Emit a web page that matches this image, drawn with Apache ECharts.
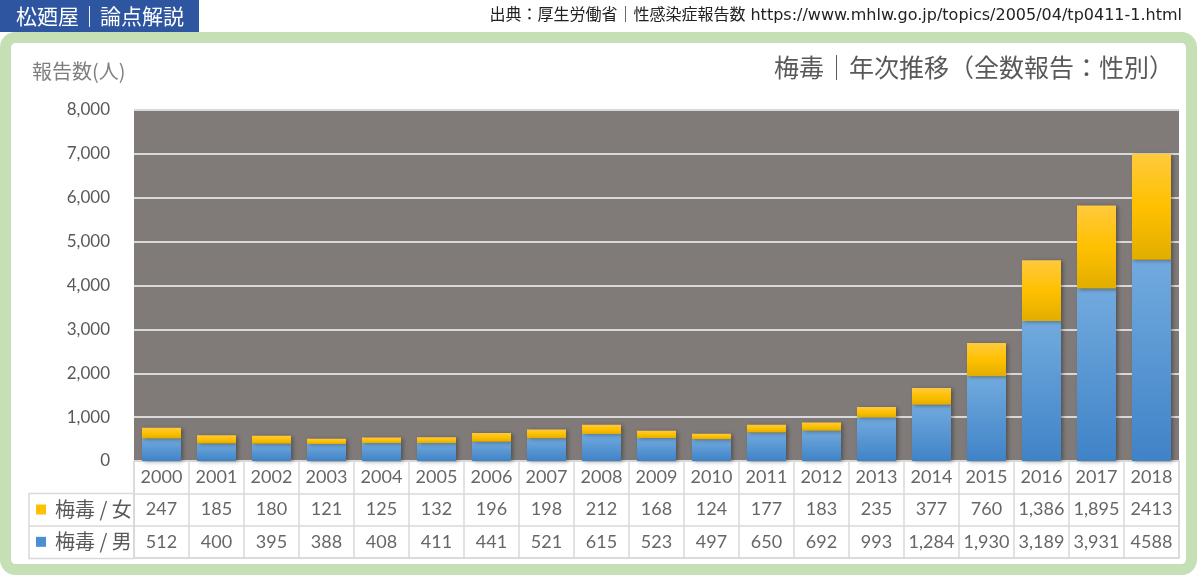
<!DOCTYPE html>
<html>
<head>
<meta charset="utf-8">
<script src="https://cdn.jsdelivr.net/npm/echarts@6/dist/echarts.min.js"></script>
<style>
  html, body { margin: 0; padding: 0; background: #fff; }
  #chart { width: 1200px; height: 577px; }
</style>
</head>
<body>
<div id="chart"></div>
<script>
// 年次（全数報告）
var years = ['2000', '2001', '2002', '2003', '2004', '2005', '2006', '2007', '2008', '2009',
  '2010', '2011', '2012', '2013', '2014', '2015', '2016', '2017', '2018'];
// 梅毒 / 男
var maleCounts = [512, 400, 395, 388, 408, 411, 441, 521, 615, 523,
  497, 650, 692, 993, 1284, 1930, 3189, 3931, 4588];
// 梅毒 / 女
var femaleCounts = [247, 185, 180, 121, 125, 132, 196, 198, 212, 168,
  124, 177, 183, 235, 377, 760, 1386, 1895, 2413];
var tableRows = ['year', 'female', 'male'];
var rowNames = { year: '', female: '梅毒 / 女', male: '梅毒 / 男' };

var CJK = '"Noto Sans CJK JP", "Noto Sans", sans-serif';
var NUM = 'Lato, "Noto Sans", sans-serif';
var gridColor = '#d9d9d9';

// 元の表では2018年だけカンマ無し
function fmt(v, i) {
  return i === years.length - 1 ? String(v) : v.toLocaleString('en-US');
}

// 表のセル（年・女・男）
var cellData = [];
for (var i = 0; i < years.length; i++) {
  cellData.push({ value: [i, 'year'], name: years[i] });
  cellData.push({ value: [i, 'female'], name: fmt(femaleCounts[i], i) });
  cellData.push({ value: [i, 'male'], name: fmt(maleCounts[i], i) });
}

var chart = echarts.init(document.getElementById('chart'));

var option = {
  backgroundColor: '#fff',
  animation: false,
  graphic: [
    // 緑の枠
    { type: 'rect', z: 0, silent: true,
      shape: { x: 5.5, y: 37.5, width: 1186, height: 532, r: 10 },
      style: { fill: 'none', stroke: '#c5e0b4', lineWidth: 11 } },
    // 左上のタイトル帯
    { type: 'rect', z: 1, silent: true,
      shape: { x: 0, y: 0, width: 199, height: 32 },
      style: { fill: '#2d55a0' } },
    { type: 'text', z: 2, silent: true, left: 16, top: 6,
      style: { text: '松廼屋｜論点解説', fill: '#fff', font: '21px ' + CJK } },
    // 出典
    { type: 'text', z: 2, silent: true, right: 18, top: 8,
      style: { text: '出典：厚生労働省｜性感染症報告数 https://www.mhlw.go.jp/topics/2005/04/tp0411-1.html',
        fill: '#222', font: '16px "DejaVu Sans", "Noto Sans CJK JP", sans-serif' } },
    // グラフタイトル
    { type: 'text', z: 2, silent: true, right: 26, top: 55,
      style: { text: '梅毒｜年次推移（全数報告：性別）', fill: '#595959', font: '25px ' + CJK } },
    // 縦軸名
    { type: 'text', z: 2, silent: true, left: 32, top: 61,
      style: { text: '報告数(人)', fill: '#7f7f7f', font: '20px ' + CJK } },
    // 凡例列の枠
    { type: 'rect', z: 2, silent: true,
      shape: { x: 29, y: 493.5, width: 105, height: 65 },
      style: { fill: 'none', stroke: gridColor, lineWidth: 1.5 } },
    { type: 'line', z: 2, silent: true,
      shape: { x1: 29, y1: 526, x2: 134, y2: 526 },
      style: { stroke: gridColor, lineWidth: 1.5 } }
  ],
  grid: [
    { left: 134, top: 110, width: 1045, height: 351, show: true,
      backgroundColor: '#807b79', borderWidth: 0 },
    { left: 134, top: 461, width: 1045, height: 97, show: true,
      backgroundColor: 'transparent', borderColor: gridColor, borderWidth: 1.5 }
  ],
  xAxis: [
    { type: 'category', gridIndex: 0, data: years,
      axisLine: { show: false }, axisTick: { show: false }, axisLabel: { show: false } },
    { type: 'category', gridIndex: 1, data: years,
      axisLine: { show: false }, axisTick: { show: false }, axisLabel: { show: false },
      splitLine: { show: true, interval: 0, lineStyle: { color: gridColor, width: 1.5 } } }
  ],
  yAxis: [
    { type: 'value', gridIndex: 0, min: 0, max: 8000, interval: 1000,
      axisLine: { show: false }, axisTick: { show: false },
      axisLabel: { margin: 24, color: '#595959', fontSize: 17, fontFamily: NUM,
        formatter: function(v) { return v.toLocaleString('en-US'); } },
      splitLine: { lineStyle: { color: gridColor, width: 2 } } },
    { type: 'category', gridIndex: 1, data: tableRows, inverse: true,
      axisLine: { show: false }, axisTick: { show: false },
      splitLine: { show: true, interval: 0, lineStyle: { color: gridColor, width: 1.5 } },
      axisLabel: {
        margin: 98, align: 'left', color: '#595959', fontSize: 20, fontFamily: CJK,
        formatter: function(v) {
          if (v === 'female') return '{f|}  ' + rowNames[v];
          if (v === 'male') return '{m|}  ' + rowNames[v];
          return '';
        },
        rich: {
          f: { width: 10, height: 10, backgroundColor: '#ffc000' },
          m: { width: 10, height: 10, backgroundColor: '#4a8fd4' }
        }
      } }
  ],
  series: [
    { name: '梅毒 / 男', type: 'bar', stack: 'total', barWidth: 39,
      xAxisIndex: 0, yAxisIndex: 0, data: maleCounts,
      itemStyle: {
        color: new echarts.graphic.LinearGradient(0, 0, 0, 1, [
          { offset: 0, color: '#72aade' },
          { offset: 1, color: '#3f83c7' }
        ]),
        shadowColor: 'rgba(0,0,0,0.35)', shadowBlur: 4, shadowOffsetX: 2, shadowOffsetY: 1
      } },
    { name: '梅毒 / 女', type: 'bar', stack: 'total', barWidth: 39,
      xAxisIndex: 0, yAxisIndex: 0, data: femaleCounts,
      itemStyle: {
        color: new echarts.graphic.LinearGradient(0, 0, 0, 1, [
          { offset: 0, color: '#ffca3c' },
          { offset: 0.5, color: '#ffc000' },
          { offset: 1, color: '#e2ad00' }
        ]),
        shadowColor: 'rgba(0,0,0,0.35)', shadowBlur: 4, shadowOffsetX: 2, shadowOffsetY: 1
      } },
    { type: 'scatter', xAxisIndex: 1, yAxisIndex: 1, silent: true,
      symbol: 'rect', symbolSize: 1, itemStyle: { color: 'transparent' },
      data: cellData,
      label: { show: true, position: 'inside', color: '#404040', fontSize: 18, fontFamily: NUM,
        formatter: function(p) { return p.name; } } }
  ]
};

chart.setOption(option);
</script>
</body>
</html>
